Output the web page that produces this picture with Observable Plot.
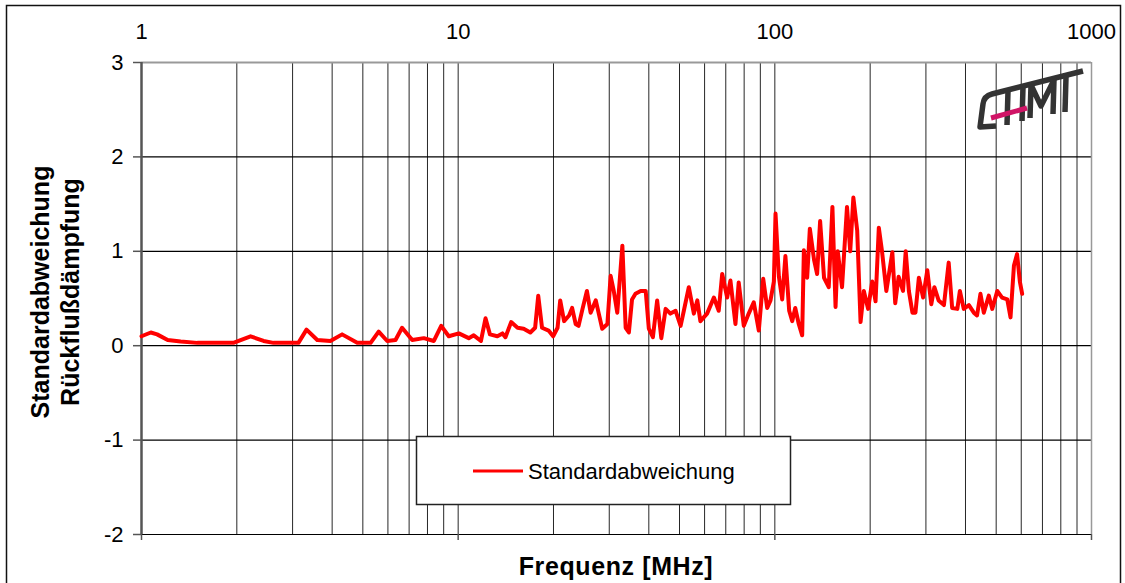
<!DOCTYPE html>
<html><head><meta charset="utf-8">
<script src="https://cdn.jsdelivr.net/npm/d3@7"></script>
<script src="https://cdn.jsdelivr.net/npm/@observablehq/plot@0.6"></script>
<style>
body{margin:0;background:#fff;}
#chart{position:relative;width:1125px;height:583px;overflow:hidden;background:#fff;}
</style>
</head><body><div id="chart"></div>
<script>
// ---- data ----
const freqMHz = [1.00,1.07,1.12,1.21,1.33,1.50,1.95,2.21,2.43,2.61,
  3.13,3.32,3.59,3.95,4.30,4.80,5.29,5.61,5.97,6.34,
  6.65,7.16,7.79,8.38,8.84,9.34,10.05,10.8,11.2,11.8,
  12.2,12.6,13.3,13.8,14.1,14.7,15.4,16.1,16.9,17.5,
  17.9,18.4,19.3,19.95,20.6,21.0,21.6,22.4,22.9,23.5,
  24.0,24.7,25.5,26.2,27.2,27.8,28.5,29.6,30.3,31.0,
  31.8,33.0,33.8,34.6,35.4,36.3,37.7,39.1,40.0,41.2,
  42.5,43.8,45.2,46.8,48.6,50.4,51.6,53.5,55.5,56.9,
  58.2,61.1,64.2,66.5,68.2,70.7,72.4,75.1,76.9,79.8,
  82.7,85.8,89.0,91.9,94.6,96.9,99.3,100.5,103,105.5,
  108,111,113.5,116,119,122,123.5,126.5,129,133,
  136,139,143,148,152,155.5,158,163,169,173,
  177,182,186.5,191,197,203,208,213,218,225,
  235,240,246,254,259,265,272,278,285,294,
  303,312,319,329,342,354,363,377,384,395,
  410,425,435,446,457,474,486,504,522,542,
  555,569,582,594,604];
const stdDevDb = [0.10,0.14,0.12,0.06,0.045,0.03,0.03,0.10,0.05,0.03,
  0.03,0.17,0.06,0.05,0.12,0.03,0.03,0.15,0.05,0.06,
  0.19,0.06,0.08,0.05,0.21,0.10,0.13,0.08,0.11,0.05,
  0.29,0.12,0.10,0.13,0.09,0.25,0.19,0.18,0.14,0.19,
  0.53,0.19,0.16,0.10,0.19,0.48,0.26,0.32,0.40,0.23,
  0.21,0.39,0.58,0.35,0.48,0.34,0.18,0.23,0.74,0.58,
  0.35,1.06,0.19,0.14,0.49,0.55,0.58,0.58,0.18,0.09,
  0.48,0.08,0.39,0.34,0.37,0.21,0.37,0.62,0.34,0.48,
  0.26,0.34,0.51,0.37,0.76,0.51,0.69,0.23,0.67,0.21,
  0.34,0.46,0.16,0.71,0.40,0.48,0.68,1.40,0.73,0.49,
  0.95,0.37,0.26,0.40,0.23,0.11,1.01,0.72,1.24,0.91,
  0.76,1.32,0.72,0.62,1.47,0.41,1.00,0.62,1.47,1.00,
  1.57,1.22,0.25,0.58,0.39,0.68,0.47,1.25,1.00,0.58,
  0.99,0.45,0.73,0.58,1.00,0.58,0.35,0.35,0.72,0.51,
  0.80,0.44,0.62,0.48,0.43,0.88,0.40,0.39,0.58,0.39,
  0.43,0.35,0.32,0.55,0.35,0.53,0.39,0.58,0.51,0.49,
  0.30,0.85,0.97,0.68,0.55];
const xTickLabels = [1, 10, 100, 1000];
const yTickValues = [-2, -1, 0, 1, 2, 3];
const xGridValues = [1,2,3,4,5,6,7,8,9,10,20,30,40,50,60,70,80,90,100,200,300,400,500,600,700,800,900,1000];
const seriesName = "Standardabweichung";
const xTitle = "Frequenz [MHz]";
const yTitleLines = ["Standardabweichung", "Rückflußdämpfung"];

// ---- build ----
const data = freqMHz.map((f, i) => ({f, v: stdDevDb[i]}));
const W = 1125, H = 583;
const FONT = "'Liberation Sans', Arial, Helvetica, sans-serif";

const plot = Plot.plot({
  width: W, height: H,
  marginLeft: 141, marginRight: 34, marginTop: 62, marginBottom: 49,
  x: {type: "log", domain: [1, 1000], axis: null},
  y: {domain: [-2, 3], axis: null},
  style: {fontFamily: FONT, fontSize: "22px", color: "#000", background: "#fff", overflow: "visible"},
  marks: [
    Plot.ruleX(xGridValues, {stroke: "#000", strokeOpacity: 0.85, strokeWidth: 1}),
    Plot.ruleY(yTickValues.filter(d => d < 3), {stroke: "#000", strokeWidth: 1.2}),
    Plot.ruleY([3], {stroke: "#999", strokeWidth: 2}),
    Plot.ruleX([1000], {stroke: "#999", strokeWidth: 1.5}),
    Plot.ruleX([1], {stroke: "#555", strokeWidth: 2.5}),
    Plot.axisY(yTickValues, {tickSize: 8, tickPadding: 10, stroke: "#555", strokeWidth: 1.5, fontSize: 22, label: null, tickFormat: d => String(d)}),
    Plot.axisX(xTickLabels, {anchor: "bottom", tickSize: 6, tickPadding: 0, stroke: "#555", strokeWidth: 1.5, tickFormat: () => "", label: null}),
    Plot.axisX(xTickLabels, {anchor: "top", tickSize: 0, tickPadding: 24, fontSize: 22, label: null, tickFormat: d => String(d)}),
    Plot.line(data, {x: "f", y: "v", stroke: "#ff0000", strokeWidth: 4, strokeLinejoin: "round", strokeLinecap: "round"})
  ]
});
document.getElementById("chart").appendChild(plot);

const svg = d3.select(plot);
// y titles
yTitleLines.forEach((t, i) => {
  svg.append("text")
    .attr("transform", `translate(${40 + i * 30},292) rotate(-90)`)
    .attr("text-anchor", "middle").attr("dominant-baseline", "central")
    .style("font-family", FONT).style("font-weight", "bold").style("font-size", "25px")
    .attr("fill", "#000").text(t);
});
// x title
svg.append("text")
  .attr("x", 616).attr("y", 566)
  .attr("text-anchor", "middle").attr("dominant-baseline", "central")
  .style("font-family", FONT).style("font-weight", "bold").style("font-size", "25px")
  .style("letter-spacing", "0.6px")
  .attr("fill", "#000").text(xTitle);

// legend box
const lg = svg.append("g");
lg.append("rect").attr("x", 416.5).attr("y", 436.5).attr("width", 374).attr("height", 68)
  .attr("fill", "#fff").attr("stroke", "#222").attr("stroke-width", 1.5);
lg.append("line").attr("x1", 473).attr("x2", 523).attr("y1", 471).attr("y2", 471)
  .attr("stroke", "#ff0000").attr("stroke-width", 3);
lg.append("text").attr("x", 528).attr("y", 471)
  .attr("text-anchor", "start").attr("dominant-baseline", "central")
  .style("font-family", FONT).style("font-size", "22px").attr("fill", "#000").text(seriesName);

// logo (decoration)
const logo = svg.append("g").attr("fill", "none").attr("stroke", "#333").attr("stroke-width", 5.5)
  .attr("stroke-linecap", "butt").attr("stroke-linejoin", "round");
logo.append("path").attr("d", "M 1083 71 L 992 94 Q 984 96 983 104 L 980 127 L 996 126");
logo.append("path").attr("d", "M 1008 91 L 1007 125 M 1023 87 L 1022 121");
logo.append("path").attr("d", "M 1031 85 L 1030 118 M 1031 85 L 1041 106 L 1054 80 L 1053 114");
logo.append("path").attr("d", "M 1066 77 L 1065 112");
svg.append("line").attr("x1", 991).attr("y1", 118).attr("x2", 1027).attr("y2", 108)
  .attr("stroke", "#d01466").attr("stroke-width", 5);

// outer border
svg.append("rect").attr("x", 6.5).attr("y", 5.5).attr("width", 1114).attr("height", 620)
  .attr("fill", "none").attr("stroke", "#111").attr("stroke-width", 1.5);
</script>
</body></html>
